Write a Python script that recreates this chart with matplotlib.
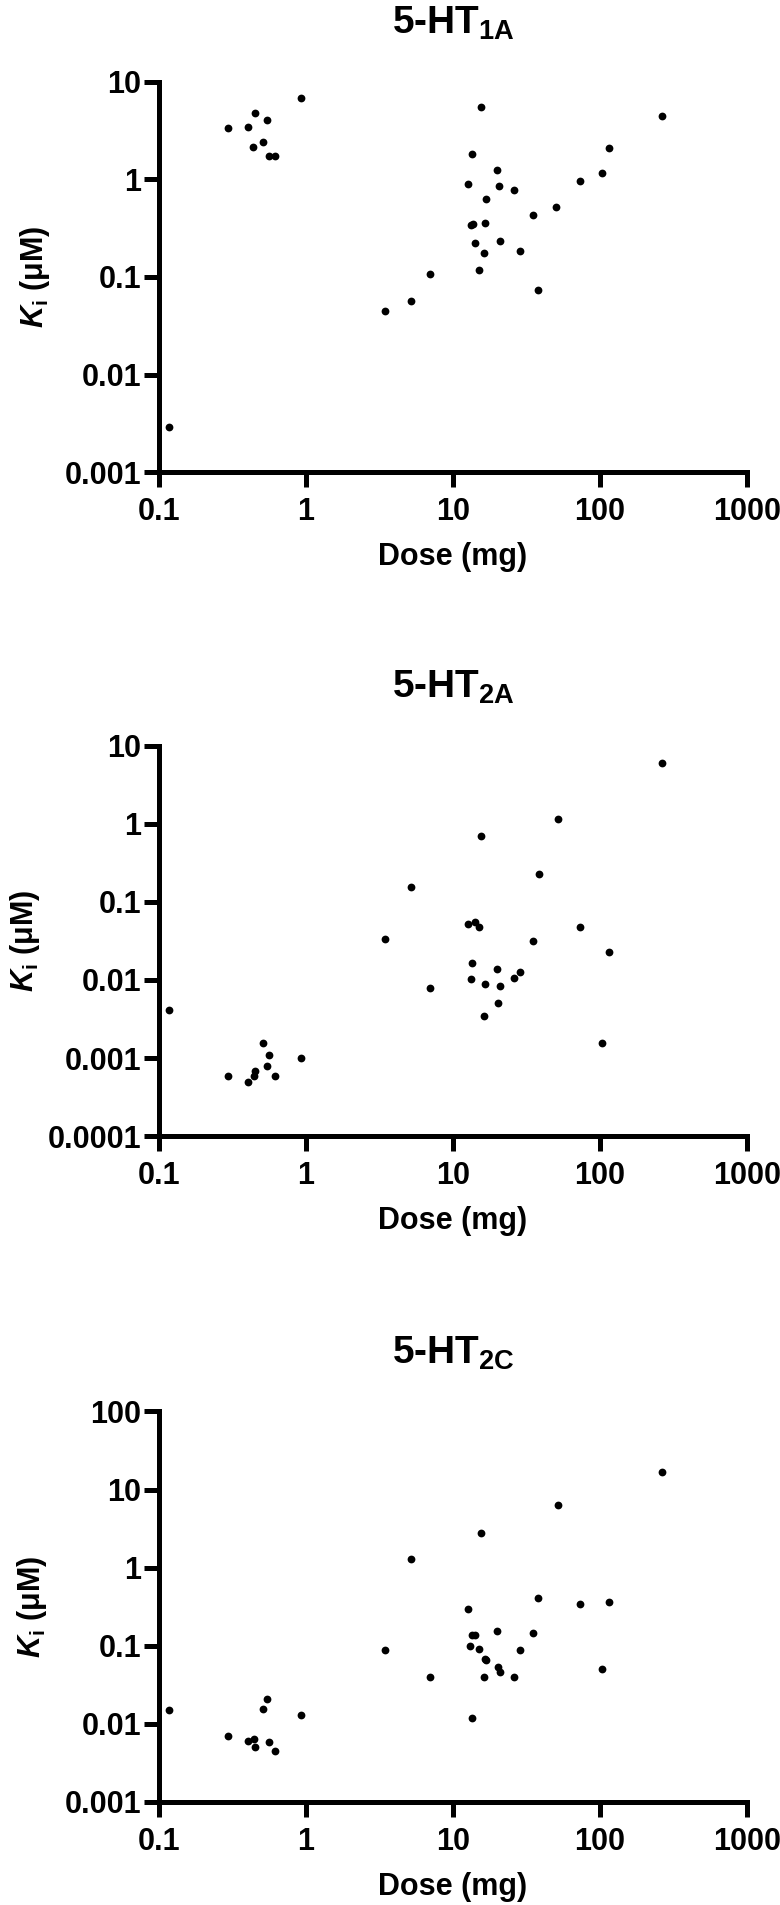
import matplotlib
matplotlib.use('Agg')
import matplotlib.pyplot as plt

# ---------------- data ----------------
dose_1a = [0.117, 0.294, 0.40, 0.438, 0.45, 0.51, 0.54, 0.56, 0.615, 0.923,
           3.46, 5.2, 7.0, 12.7, 13.3, 13.6, 13.4, 14.1, 15.1, 15.5, 16.3, 16.6, 16.8,
           19.9, 20.4, 21.0, 26.2, 28.6, 35.2, 37.9, 50.5, 73.6, 103, 116, 265]
ki_1a = [0.0029, 3.38, 3.46, 2.13, 4.81, 2.43, 4.02, 1.73, 1.73, 6.86,
         0.0446, 0.0565, 0.107, 0.895, 0.343, 0.35, 1.83, 0.221, 0.119, 5.46, 0.175, 0.359, 0.633,
         1.25, 0.853, 0.233, 0.782, 0.184, 0.428, 0.073, 0.52, 0.96, 1.15, 2.11, 4.41]

dose_2a = [0.117, 0.294, 0.40, 0.44, 0.451, 0.51, 0.54, 0.562, 0.615, 0.923,
           3.46, 5.2, 7.0, 12.7, 13.2, 13.4, 14.1, 15.1, 15.5, 16.3, 16.6,
           19.9, 20.3, 21.0, 26.2, 28.5, 35.1, 38.5, 51.6, 73.2, 103, 116, 265]
ki_2a = [0.00413, 0.00059, 0.000494, 0.00059, 0.00069, 0.00157, 0.000785, 0.00109, 0.00059, 0.00099,
         0.0332, 0.156, 0.0080, 0.0526, 0.0104, 0.0167, 0.0558, 0.0473, 0.698, 0.00343, 0.0089,
         0.0137, 0.0051, 0.0084, 0.0107, 0.0128, 0.0316, 0.226, 1.15, 0.0474, 0.00156, 0.023, 6.02]

dose_2c = [0.117, 0.294, 0.40, 0.44, 0.45, 0.51, 0.54, 0.56, 0.615, 0.923,
           3.46, 5.2, 7.0, 12.7, 13.1, 13.4, 13.4, 14.2, 15.1, 15.5, 16.3, 16.6, 16.9,
           19.9, 20.3, 21.0, 26.2, 28.5, 35.1, 37.9, 51.6, 73.6, 103, 116, 265]
ki_2c = [0.0149, 0.00708, 0.00605, 0.00641, 0.00507, 0.0156, 0.0207, 0.00587, 0.0045, 0.0128,
         0.0889, 1.27, 0.0393, 0.293, 0.098, 0.139, 0.0118, 0.139, 0.0918, 2.74, 0.0393, 0.0678, 0.066,
         0.156, 0.0528, 0.0461, 0.0393, 0.0883, 0.147, 0.414, 6.42, 0.344, 0.0508, 0.364, 16.8]

x_ticks = [0.1, 1, 10, 100, 1000]
x_ticklabels = ['0.1', '1', '10', '100', '1000']
y_ticks_1a = [0.001, 0.01, 0.1, 1, 10]
y_labels_1a = ['0.001', '0.01', '0.1', '1', '10']
y_ticks_2a = [0.0001, 0.001, 0.01, 0.1, 1, 10]
y_labels_2a = ['0.0001', '0.001', '0.01', '0.1', '1', '10']
y_ticks_2c = [0.001, 0.01, 0.1, 1, 10, 100]
y_labels_2c = ['0.001', '0.01', '0.1', '1', '10', '100']
titles = ['1A', '2A', '2C']

# ---------------- style ----------------
plt.rcParams['font.family'] = ['Liberation Sans', 'DejaVu Sans']
plt.rcParams['font.weight'] = 'bold'
plt.rcParams['mathtext.fontset'] = 'custom'
plt.rcParams['mathtext.rm'] = 'Liberation Sans:bold'
plt.rcParams['mathtext.bf'] = 'Liberation Sans:bold'
plt.rcParams['mathtext.it'] = 'Liberation Sans:bold:italic'

W, H = 780, 1905
fig = plt.figure(figsize=(W / 100, H / 100), dpi=100)

left_px, right_px = 159, 747
panel_tops = [81.7, 745.7, 1411.4]
panel_h = 390.5
ylabel_x = [35, 25, 32]

data = [
    (dose_1a, ki_1a, y_ticks_1a, y_labels_1a),
    (dose_2a, ki_2a, y_ticks_2a, y_labels_2a),
    (dose_2c, ki_2c, y_ticks_2c, y_labels_2c),
]

LW = 3.6
for i, (dose, ki, yt, yl) in enumerate(data):
    top = panel_tops[i]
    ax = fig.add_axes([left_px / W, 1 - (top + panel_h) / H,
                       (right_px - left_px) / W, panel_h / H])
    ax.plot(dose, ki, 'o', color='black', ms=5.6, mew=0, clip_on=False, zorder=3)
    ax.set_xscale('log')
    ax.set_yscale('log')
    ax.set_xlim(x_ticks[0], x_ticks[-1])
    ax.set_ylim(yt[0], yt[-1])
    ax.set_xticks(x_ticks)
    ax.set_xticklabels(x_ticklabels)
    ax.set_yticks(yt)
    ax.set_yticklabels(yl)
    ax.minorticks_off()
    for s in ['top', 'right']:
        ax.spines[s].set_visible(False)
    for s in ['left', 'bottom']:
        ax.spines[s].set_linewidth(LW)
        ax.spines[s].set_capstyle('projecting')
    ax.tick_params(axis='both', which='major', direction='out', length=10.8,
                   width=LW, labelsize=22, color='black')
    ax.tick_params(axis='x', pad=7)
    ax.tick_params(axis='y', pad=2)
    for lab in ax.get_xticklabels() + ax.get_yticklabels():
        lab.set_fontweight('bold')

    ax.set_xlabel('Dose (mg)', fontsize=22, fontweight='bold', va='center')
    ax.xaxis.set_label_coords(0.5, -85 / panel_h)
    ax.set_ylabel(r'$K_{\mathrm{i}}$ (μM)', fontsize=22, fontweight='bold', va='center')
    ax.yaxis.set_label_coords((ylabel_x[i] - left_px) / (right_px - left_px), 0.5)

    ax.text(0.5, 1 + 48 / panel_h, r'5-HT$_{\mathrm{' + titles[i] + '}}$',
            transform=ax.transAxes, ha='center', va='baseline',
            fontsize=28, fontweight='bold')

fig.savefig('out.png', dpi=100, facecolor='white')
